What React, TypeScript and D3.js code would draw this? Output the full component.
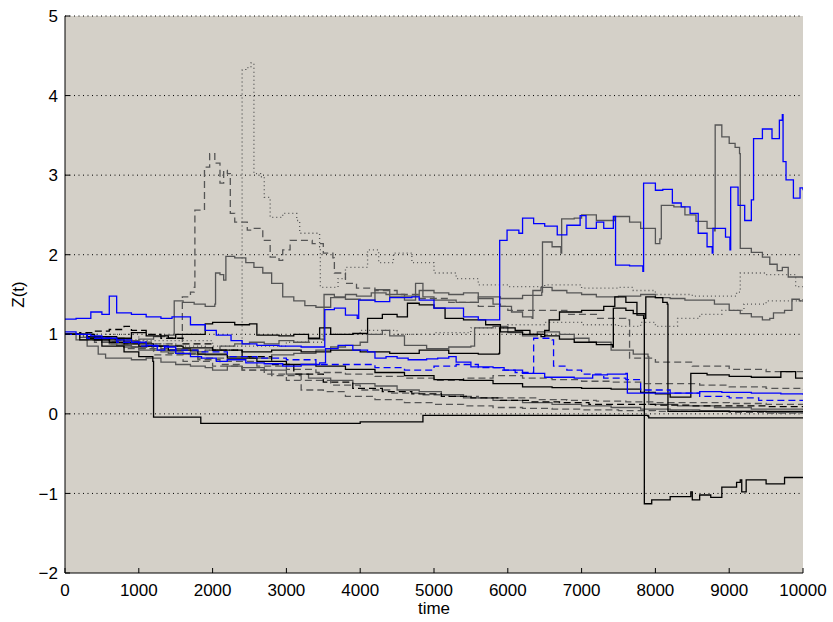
import React from "react";
import * as d3 from "d3";

type Pt = [number, number];

// tick labels
const xTicks = [0, 1000, 2000, 3000, 4000, 5000, 6000, 7000, 8000, 9000, 10000];
const yTicks = [-2, -1, 0, 1, 2, 3, 4, 5];

// sample paths (time, Z(t))
const blueTop: Pt[] = [[0,1.19],[150,1.2],[350,1.28],[500,1.25],[600,1.48],[700,1.27],[900,1.25],[1100,1.22],[1300,1.2],[1450,1.22],[1700,1.12],[1900,1.05],[2050,0.99],[2250,0.92],[2400,0.88],[2600,0.86],[2900,0.85],[3200,0.84],[3520,1.31],[3650,1.33],[3800,1.24],[3960,1.2],[3980,1.43],[4200,1.41],[4400,1.46],[4700,1.47],[4800,1.43],[5000,1.33],[5200,1.33],[5400,1.22],[5600,1.18],[5890,2.18],[5990,2.31],[6150,2.27],[6200,2.46],[6350,2.39],[6500,2.36],[6670,2.25],[6800,2.37],[6980,2.49],[7060,2.33],[7200,2.41],[7300,2.33],[7430,2.48],[7460,1.87],[7650,1.86],[7830,1.79],[7840,2.9],[8000,2.81],[8100,2.82],[8230,2.65],[8350,2.6],[8470,2.52],[8580,2.27],[8700,2.1],[8770,2.02],[8780,2.33],[8950,2.22],[9010,2.06],[9020,2.85],[9120,2.62],[9210,2.43],[9300,2.69],[9330,3.46],[9450,3.58],[9580,3.46],[9680,3.69],[9720,3.76],[9730,3.17],[9770,2.94],[9870,2.71],[9960,2.84],[10000,2.81]];
const blueLow: Pt[] = [[0,1.03],[150,1.0],[350,0.98],[500,0.95],[700,0.93],[900,0.9],[1100,0.86],[1250,0.8],[1350,0.84],[1500,0.76],[1700,0.72],[1850,0.7],[2050,0.66],[2200,0.68],[2450,0.64],[2700,0.63],[2950,0.6],[3200,0.62],[3450,0.64],[3530,0.82],[3700,0.86],[3900,0.8],[4100,0.78],[4200,0.7],[4350,0.72],[4500,0.7],[4650,0.68],[4900,0.69],[5050,0.7],[5200,0.72],[5300,0.65],[5500,0.59],[5800,0.58],[5950,0.55],[6200,0.51],[6500,0.46],[6900,0.45],[7150,0.49],[7350,0.5],[7600,0.51],[7620,0.26],[7900,0.26],[8300,0.26],[8600,0.28],[8900,0.27],[9300,0.26],[9700,0.25],[10000,0.24]];
const blueDash: Pt[] = [[0,1.0],[300,0.95],[700,0.9],[1000,0.85],[1400,0.8],[1800,0.78],[2200,0.72],[2600,0.7],[3000,0.68],[3400,0.62],[3800,0.62],[4200,0.58],[4600,0.55],[5000,0.6],[5300,0.62],[5600,0.58],[5900,0.55],[6100,0.52],[6350,0.95],[6600,0.93],[6620,0.6],[6800,0.55],[7000,0.5],[7300,0.45],[7600,0.43],[7800,0.3],[8200,0.26],[8600,0.22],[9000,0.2],[9400,0.17],[10000,0.17]];
const dotPeak: Pt[] = [[0,1.0],[300,0.97],[700,0.93],[1100,0.88],[1500,0.85],[1900,0.8],[2390,0.78],[2400,4.32],[2450,4.35],[2520,4.41],[2560,3.02],[2650,2.98],[2700,2.72],[2780,2.47],[2950,2.52],[3140,2.43],[3180,2.27],[3450,2.1],[3460,1.59],[3700,1.7],[3800,1.84],[4100,2.06],[4250,1.9],[4450,2.02],[4700,1.9],[5000,1.77],[5300,1.7],[5600,1.62],[6000,1.6],[6500,1.62],[7000,1.58],[7500,1.59],[7700,1.55],[8000,1.5],[8500,1.48],[9100,1.53],[9150,1.77],[9500,1.75],[9900,1.6],[10000,1.62]];
const dotLow: Pt[] = [[0,1.0],[1000,0.92],[2000,0.85],[3000,0.9],[3500,1.0],[4000,1.05],[4500,1.0],[5000,1.02],[5500,1.08],[6000,1.12],[6500,1.15],[7000,1.12],[7500,1.1],[7800,1.15],[8000,1.1],[8300,1.2],[8600,1.25],[8900,1.3],[9200,1.38],[9500,1.42],[10000,1.45]];
const dashPeak: Pt[] = [[0,1.0],[300,0.96],[600,0.93],[900,0.9],[1200,0.88],[1500,0.86],[1590,1.47],[1700,1.53],[1750,1.59],[1760,2.56],[1880,2.56],[1890,3.1],[1960,3.27],[2030,3.15],[2100,2.9],[2150,3.06],[2200,3.02],[2240,2.52],[2300,2.41],[2470,2.31],[2550,2.33],[2680,2.18],[2780,1.97],[2900,1.93],[2950,2.06],[3050,2.18],[3200,2.18],[3350,2.14],[3500,2.02],[3630,1.96],[3650,1.77],[3800,1.64],[3950,1.58],[4200,1.55],[4500,1.5],[4800,1.45],[5200,1.4],[5600,1.35],[6000,1.3],[6400,1.3],[6800,1.25],[7200,1.2],[7600,1.18],[7650,0.7],[8000,0.65],[8500,0.6],[9000,0.56],[9500,0.53],[10000,0.52]];
const grayPeak: Pt[] = [[0,1.0],[200,0.96],[400,0.93],[600,0.95],[800,0.92],[1000,0.94],[1200,0.97],[1350,0.99],[1480,1.42],[1600,1.4],[1750,1.38],[1900,1.35],[2030,1.38],[2040,1.77],[2100,1.75],[2150,1.68],[2180,1.98],[2300,1.96],[2450,1.9],[2560,1.84],[2680,1.77],[2800,1.64],[2950,1.47],[3100,1.42],[3250,1.36],[3400,1.34],[3600,1.46],[3800,1.44],[4000,1.43],[4200,1.56],[4400,1.47],[4600,1.43],[4750,1.64],[4850,1.47],[5000,1.43],[5300,1.4],[5600,1.47],[5900,1.45],[6200,1.49],[6460,1.53],[6470,2.16],[6600,2.1],[6720,2.02],[6730,2.45],[6900,2.46],[7000,2.5],[7200,2.43],[7450,2.48],[7650,2.41],[7800,2.33],[7950,2.33],[8000,2.14],[8060,2.2],[8080,2.62],[8250,2.6],[8400,2.5],[8550,2.42],[8700,2.33],[8800,2.3],[8810,3.63],[8900,3.48],[9000,3.4],[9080,3.35],[9140,3.27],[9150,2.08],[9300,2.03],[9450,1.97],[9550,1.88],[9650,1.8],[9720,1.84],[9800,1.72],[9900,1.72],[10000,1.7]];
const grayMid: Pt[] = [[0,1.0],[250,0.96],[500,0.9],[700,0.86],[900,0.84],[1100,0.85],[1300,0.8],[1500,0.82],[1700,0.78],[1900,0.8],[2100,0.85],[2300,0.88],[2500,0.9],[2700,0.88],[2900,0.92],[3100,0.9],[3300,0.94],[3500,0.93],[3510,1.5],[3650,1.47],[3800,1.5],[3950,1.48],[4150,1.52],[4350,1.5],[4600,1.48],[4800,1.55],[5000,1.52],[5200,1.5],[5400,1.52],[5600,1.45],[5800,1.38],[5900,1.35],[6050,1.28],[6200,1.22],[6330,1.2],[6340,1.55],[6450,1.59],[6600,1.55],[6800,1.52],[7000,1.5],[7200,1.47],[7500,1.48],[7800,1.5],[8000,1.46],[8200,1.45],[8400,1.43],[8600,1.43],[8800,1.38],[9000,1.3],[9150,1.26],[9300,1.22],[9450,1.18],[9550,1.2],[9600,1.27],[9750,1.3],[9850,1.44],[9950,1.42],[10000,1.41]];
const grayLow: Pt[] = [[0,1.0],[300,0.94],[600,0.88],[800,0.84],[1000,0.8],[1300,0.78],[1600,0.75],[1900,0.74],[2200,0.72],[2500,0.7],[2800,0.74],[3100,0.76],[3400,0.8],[3600,0.84],[3800,0.86],[4000,0.9],[4100,1.0],[4300,1.05],[4400,0.98],[4600,0.86],[4900,0.82],[5200,0.84],[5500,0.85],[5550,1.08],[5800,1.1],[6000,1.02],[6200,0.98],[6400,1.03],[6700,1.0],[6900,0.95],[7100,0.9],[7400,0.8],[7700,0.75],[7900,0.72],[7910,0.12],[8300,0.1],[8800,0.08],[9300,0.06],[10000,0.05]];
const grayDip: Pt[] = [[0,1.0],[150,0.93],[300,0.85],[450,0.75],[550,0.7],[700,0.7],[900,0.68],[1100,0.7],[1300,0.65],[1500,0.62],[1700,0.6],[1900,0.58],[2000,0.55],[2200,0.6],[2400,0.58],[2700,0.55],[3000,0.5],[3300,0.45],[3600,0.42],[3900,0.38],[4200,0.35],[4500,0.3],[4800,0.28],[5100,0.24],[5400,0.2],[5800,0.17],[6200,0.14],[6600,0.12],[7000,0.1],[7400,0.08],[7800,0.06],[8200,0.05],[8600,0.04],[9000,0.03],[9500,0.02],[10000,0.01]];
const grayDashA: Pt[] = [[0,1.0],[300,0.93],[600,0.88],[1000,0.82],[1400,0.76],[1800,0.7],[2200,0.66],[2600,0.6],[3000,0.56],[3400,0.52],[3800,0.5],[4200,0.47],[4600,0.45],[5000,0.42],[5400,0.45],[5800,0.48],[6200,0.45],[6600,0.43],[7000,0.41],[7400,0.4],[7800,0.38],[8200,0.38],[8600,0.36],[9000,0.34],[9500,0.32],[10000,0.3]];
const grayDashB: Pt[] = [[0,1.0],[400,0.9],[800,0.82],[1200,0.74],[1600,0.66],[2000,0.6],[2400,0.55],[2800,0.48],[3200,0.42],[3600,0.36],[4000,0.3],[4400,0.26],[4800,0.24],[5200,0.22],[5600,0.2],[6000,0.2],[6400,0.18],[6800,0.17],[7200,0.16],[7600,0.15],[8000,0.14],[8500,0.14],[9000,0.13],[9500,0.12],[10000,0.12]];
const grayDashC: Pt[] = [[0,1.0],[300,0.95],[600,0.9],[900,0.84],[1200,0.8],[1500,0.75],[1800,0.68],[2100,0.62],[2400,0.55],[2700,0.5],[3000,0.42],[3200,0.3],[3500,0.28],[3800,0.22],[4200,0.18],[4600,0.14],[5000,0.12],[5400,0.1],[5800,0.08],[6200,0.07],[6600,0.06],[7000,0.05],[7500,0.04],[8000,0.03],[8500,0.03],[9000,0.02],[9500,0.01],[10000,0.01]];
const blackDash: Pt[] = [[0,1.0],[200,1.02],[400,1.04],[600,1.06],[800,1.1],[900,1.05],[1100,1.0],[1300,0.95],[1600,0.88],[2000,0.8],[2400,0.72],[2800,0.62],[3100,0.5],[3500,0.4],[3900,0.32],[4300,0.28],[4700,0.25],[5100,0.22],[5500,0.2],[5900,0.17],[6300,0.15],[6700,0.14],[7100,0.12],[7500,0.12],[8000,0.11],[8500,0.1],[9000,0.1],[9500,0.09],[10000,0.09]];
const blackWander: Pt[] = [[0,1.0],[300,0.97],[700,0.95],[900,1.02],[1100,0.98],[1400,0.95],[1500,1.0],[1900,1.13],[2000,1.15],[2300,1.12],[2500,1.13],[2600,0.99],[2900,0.98],[3100,1.0],[3300,0.95],[3450,1.08],[3600,1.0],[3900,1.01],[4100,1.2],[4300,1.25],[4500,1.22],[4640,1.39],[4800,1.37],[5000,1.33],[5150,1.2],[5400,1.18],[5700,1.12],[5900,1.03],[6200,1.0],[6450,0.97],[6500,1.05],[6560,1.18],[6700,1.28],[7000,1.3],[7300,1.35],[7450,1.47],[7600,1.4],[7750,1.24],[7840,1.2],[7850,-1.13],[7950,-1.08],[8200,-1.04],[8480,-0.98],[8500,-1.08],[8600,-1.02],[8750,-1.05],[8900,-0.92],[9100,-0.86],[9150,-0.83],[9170,-0.98],[9230,-0.83],[9500,-0.88],[9750,-0.8],[10000,-0.8]];
const blackStep: Pt[] = [[0,1.0],[400,0.93],[800,0.88],[1200,0.85],[1600,0.83],[2000,0.8],[2400,0.78],[2800,0.8],[3200,0.78],[3600,0.8],[4000,0.78],[4400,0.76],[4800,0.8],[5200,0.76],[5600,0.75],[5880,0.76],[5890,1.08],[6100,1.05],[6300,1.0],[6500,0.98],[6700,0.94],[6900,0.9],[7200,0.87],[7420,0.84],[7430,1.33],[7600,1.3],[7700,1.26],[7860,1.2],[7870,1.47],[8000,1.46],[8100,1.4],[8160,1.38],[8170,0.03],[10000,0.03]];
const blackZero: Pt[] = [[0,1.0],[200,0.93],[500,0.85],[800,0.78],[1000,0.72],[1190,0.66],[1200,-0.04],[1830,-0.04],[1840,-0.12],[3000,-0.12],[4000,-0.1],[4840,-0.1],[4850,-0.02],[6000,-0.02],[7900,-0.03],[7910,-0.05],[10000,-0.05]];
const blackLow: Pt[] = [[0,1.0],[300,0.95],[600,0.9],[1000,0.85],[1400,0.8],[1800,0.75],[2200,0.7],[2600,0.66],[3000,0.62],[3400,0.6],[3800,0.56],[4200,0.52],[4600,0.48],[5000,0.43],[5400,0.42],[5800,0.38],[6200,0.34],[6600,0.33],[7000,0.32],[7400,0.31],[7800,0.27],[8000,0.25],[8200,0.21],[8470,0.21],[8480,0.51],[8700,0.49],[9000,0.47],[9300,0.46],[9600,0.46],[9700,0.53],[9850,0.53],[9900,0.45],[10000,0.45]];

const GRAY = "#555555";
const DASH = "7,4";
const DOT = "1,3";

const series: { pts: Pt[]; color: string; dash?: string }[] = [
  { pts: dotLow, color: GRAY, dash: DOT },
  { pts: dotPeak, color: GRAY, dash: DOT },
  { pts: grayDashA, color: GRAY, dash: DASH },
  { pts: grayDashB, color: GRAY, dash: DASH },
  { pts: grayDashC, color: GRAY, dash: DASH },
  { pts: dashPeak, color: GRAY, dash: DASH },
  { pts: grayDip, color: GRAY },
  { pts: grayLow, color: GRAY },
  { pts: grayMid, color: GRAY },
  { pts: grayPeak, color: GRAY },
  { pts: blackDash, color: "#000", dash: DASH },
  { pts: blackLow, color: "#000" },
  { pts: blackZero, color: "#000" },
  { pts: blackStep, color: "#000" },
  { pts: blackWander, color: "#000" },
  { pts: blueDash, color: "#0000ff", dash: DASH },
  { pts: blueLow, color: "#0000ff" },
  { pts: blueTop, color: "#0000ff" },
];

export default function App() {
  const W = 833, H = 622;
  const x = d3.scaleLinear().domain([0, 10000]).range([65, 803]);
  const y = d3.scaleLinear().domain([-2, 5]).range([573, 16]);
  const line = d3.line<Pt>().x(d => x(d[0])).y(d => y(d[1])).curve(d3.curveStepAfter);
  const font = "'Liberation Sans', Arial, Helvetica, sans-serif";

  return (
    <svg width={W} height={H} style={{ position: "absolute", left: 0, top: 0, background: "#fff" }} fontFamily={font}>
      <defs>
        <clipPath id="plotclip"><rect x={65} y={16} width={738} height={557} /></clipPath>
      </defs>
      <rect x={65} y={16} width={738} height={557} fill="#d4d0c8" />
      {yTicks.filter(t => t > -2).map(t => (
        <line key={"g" + t} x1={65} x2={803} y1={y(t)} y2={y(t)} stroke="#000" strokeWidth={1} strokeDasharray="1,3.5" />
      ))}
      <g clipPath="url(#plotclip)">
        {series.map((s, i) => (
          <path key={i} d={line(s.pts) || ""} fill="none" stroke={s.color} strokeWidth={1.3} strokeDasharray={s.dash} />
        ))}
      </g>
      <line x1={65} x2={65} y1={16} y2={573} stroke="#000" />
      <line x1={65} x2={803} y1={573} y2={573} stroke="#000" />
      {yTicks.map(t => (
        <g key={"y" + t}>
          <line x1={65} x2={70} y1={y(t)} y2={y(t)} stroke="#000" />
          <text x={58} y={y(t)} dy="0.36em" textAnchor="end" fontSize={17}>{t < 0 ? "\u2212" + Math.abs(t) : t}</text>
        </g>
      ))}
      {xTicks.map(t => (
        <g key={"x" + t}>
          <line x1={x(t)} x2={x(t)} y1={573} y2={568} stroke="#000" />
          <text x={x(t)} y={596} textAnchor="middle" fontSize={17}>{t}</text>
        </g>
      ))}
      <text x={434} y={614} textAnchor="middle" fontSize={17}>time</text>
      <text transform="translate(24,294.5) rotate(-90)" textAnchor="middle" fontSize={17}>Z(t)</text>
    </svg>
  );
}
